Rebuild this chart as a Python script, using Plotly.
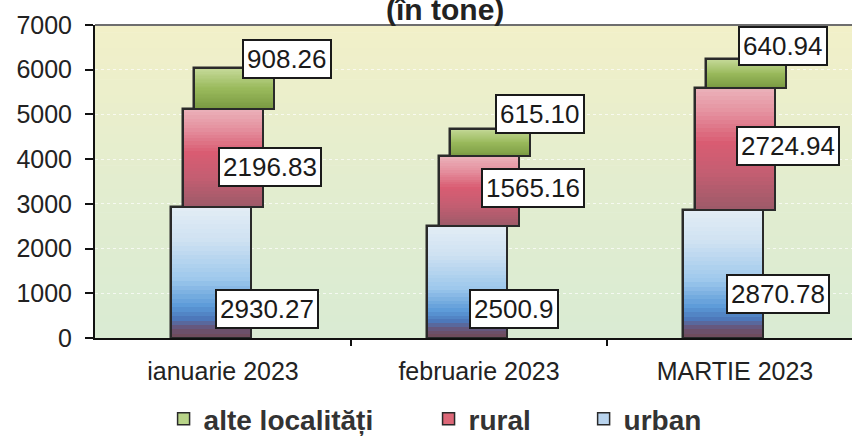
import plotly.graph_objects as go

# ---------------- data ----------------
categories = ["ianuarie 2023", "februarie 2023", "MARTIE 2023"]
urban = [2930.27, 2500.90, 2870.78]
rural = [2196.83, 1565.16, 2724.94]
alte = [908.26, 615.10, 640.94]
urban_labels = ["2930.27", "2500.9", "2870.78"]
rural_labels = ["2196.83", "1565.16", "2724.94"]
alte_labels = ["908.26", "615.10", "640.94"]
y_ticks = [0, 1000, 2000, 3000, 4000, 5000, 6000, 7000]

# ---------------- style ----------------
FONT = "Liberation Sans, Arial, sans-serif"
BAR_W = 0.3125
N_SLICES = 30

def hex2rgb(h):
    h = h.lstrip("#")
    return tuple(int(h[i:i + 2], 16) for i in (0, 2, 4))

def grad(stops, t):
    for (t0, c0), (t1, c1) in zip(stops[:-1], stops[1:]):
        if t0 <= t <= t1:
            f = (t - t0) / (t1 - t0) if t1 > t0 else 0
            a, b = hex2rgb(c0), hex2rgb(c1)
            return "rgb(%d,%d,%d)" % tuple(round(a[i] + (b[i] - a[i]) * f) for i in range(3))
    return stops[-1][1]

series = [
    dict(name="urban", vals=urban, labels=urban_labels, offset=-0.203,
         legend="legend3", swatch="#b9d4ee",
         stops=[(0, "#704a56"), (0.07, "#6a5272"), (0.15, "#4d78ba"), (0.24, "#5b9ad8"),
                (0.45, "#9ec8ec"), (0.75, "#cfe2f2"), (1, "#e3edf5")],
         lab_shift=[(44, -37), (35, -27), (43, -20)]),
    dict(name="rural", vals=rural, labels=rural_labels, offset=-0.158,
         legend="legend2", swatch="#dd6878",
         stops=[(0, "#9c5a68"), (0.3, "#c45e72"), (0.55, "#d95c72"), (0.8, "#e592a0"), (1, "#ebb2ba")],
         lab_shift=[(47, -9), (54, 3), (53, 3)]),
    dict(name="alte localități", vals=alte, labels=alte_labels, offset=-0.113,
         legend="legend", swatch="#b8d488",
         stops=[(0, "#7a9a42"), (0.5, "#9aba5c"), (1, "#c6da9a")],
         lab_shift=[(64, 29), (61, 28), (48, 27)]),
]

x = list(range(len(categories)))
fig = go.Figure()

base = [0.0] * len(categories)
annotations = []
for s in series:
    vals = s["vals"]
    # legend / solid bar
    fig.add_trace(go.Bar(x=x, y=vals, base=base, name=s["name"], width=BAR_W, offset=s["offset"],
                         marker=dict(color=s["swatch"], line=dict(color="#2a2a2a", width=1.5)),
                         legend=s["legend"], hoverinfo="skip"))
    # gradient slices (drawn from tallest to shortest so no seams)
    for k in range(N_SLICES - 1, -1, -1):
        frac = (k + 1) / N_SLICES
        col = grad(s["stops"], (k + 0.5) / N_SLICES)
        fig.add_trace(go.Bar(x=x, y=[v * frac for v in vals], base=base, width=BAR_W, offset=s["offset"],
                             marker=dict(color=col, line=dict(width=0)), showlegend=False,
                             hoverinfo="skip"))
    # outline
    fig.add_trace(go.Bar(x=x, y=vals, base=base, width=BAR_W, offset=s["offset"],
                         marker=dict(color="rgba(0,0,0,0)", line=dict(color="#2a2a2a", width=2)),
                         showlegend=False, hoverinfo="skip"))
    for i, v in enumerate(vals):
        dx, dy = s["lab_shift"][i]
        annotations.append(dict(x=x[i], y=base[i] + v / 2, xref="x", yref="y", text=s["labels"][i],
                                showarrow=False, xshift=dx, yshift=dy,
                                font=dict(family=FONT, size=26, color="#1a1a1a"),
                                bgcolor="white", bordercolor="#1a1a1a", borderwidth=2, borderpad=3))
    base = [b + v for b, v in zip(base, vals)]

# title (partially cut at top, as in the original scan)
annotations.append(dict(x=0.462, y=1, xref="paper", yref="paper", yanchor="bottom", yshift=-3,
                        text="<b>(în tone)</b>", showarrow=False,
                        font=dict(family=FONT, size=30, color="#222")))

# background gradient bands
shapes = []
NB = 40
for j in range(NB):
    col = grad([(0, "#d9ebd3"), (0.5, "#e3edcf"), (1, "#f2f0c8")], (j + 0.5) / NB)
    shapes.append(dict(type="rect", xref="paper", yref="paper", x0=0, x1=1,
                       y0=j / NB, y1=(j + 1) / NB + 0.002, fillcolor=col,
                       line=dict(width=0), layer="below"))
shapes.append(dict(type="line", xref="paper", yref="paper", x0=0, x1=1, y0=1, y1=1,
                   line=dict(color="#6e6e6e", width=2)))

PLOT_L, PLOT_R_PX, W = 95, 852, 852
span = (PLOT_R_PX - PLOT_L) / 256.0

leg_common = dict(orientation="h", yanchor="middle", xanchor="left", y=0.05,
                  xref="container", yref="container",
                  bgcolor="rgba(0,0,0,0)", itemwidth=30,
                  font=dict(family=FONT, size=28, color="#333", weight="bold"))

fig.update_layout(
    width=W, height=441,
    margin=dict(l=PLOT_L, r=0, t=25, b=103, autoexpand=False),
    paper_bgcolor="white", plot_bgcolor="rgba(0,0,0,0)",
    barmode="overlay", bargap=0,
    shapes=shapes, annotations=annotations,
    legend=dict(x=0.192, **leg_common),
    legend2=dict(x=0.503, **leg_common),
    legend3=dict(x=0.685, **leg_common),
    xaxis=dict(range=[-0.5, -0.5 + span], tickvals=x, ticktext=categories, ticks="",
               automargin=False,
               showgrid=False, zeroline=False, showline=True, linecolor="#111", linewidth=2,
               tickfont=dict(family=FONT, size=25, color="#222"), ticklabelstandoff=10,
               minor=dict(tickvals=[0.5, 1.5], ticks="outside", ticklen=6, tickcolor="#111", tickwidth=2,
                          showgrid=False)),
    yaxis=dict(range=[0, 7000], tickvals=y_ticks, ticks="outside", ticklen=8, tickwidth=2, tickcolor="#111",
               automargin=False,
               showline=True, linecolor="#111", linewidth=2, zeroline=False,
               showgrid=True, gridcolor="rgba(255,255,255,0.7)", griddash="dot", gridwidth=1,
               tickfont=dict(family=FONT, size=25, color="#222"), ticklabelstandoff=8),
)

fig.write_html("out.html", config={"displayModeBar": False},
               post_script="document.body.style.margin='0';document.body.style.overflow='hidden';")
